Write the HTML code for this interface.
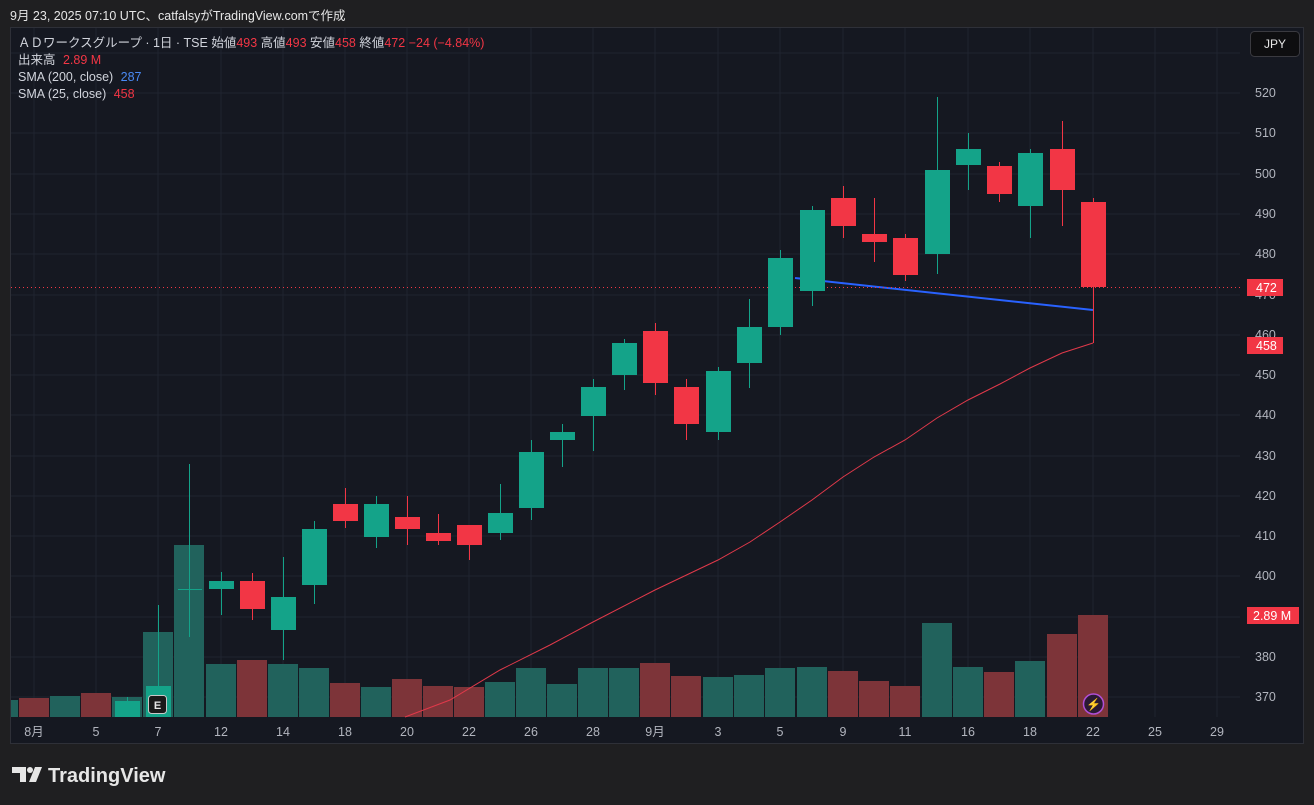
<!DOCTYPE html>
<html><head><meta charset="utf-8"><style>
html,body{margin:0;padding:0;background:#1f1f21;width:1314px;height:805px;overflow:hidden;font-family:"Liberation Sans","Noto Sans CJK JP",sans-serif}
svg{position:absolute;left:0;top:0}
</style></head><body>
<svg width="1314" height="805" xmlns="http://www.w3.org/2000/svg" font-family="Liberation Sans, Noto Sans CJK JP, sans-serif">
<rect x="0" y="0" width="1314" height="805" fill="#1f1f21"/>
<text x="10" y="20" fill="#e6e6e6" font-size="12.5">9月 23, 2025 07:10 UTC、catfalsyがTradingView.comで作成</text>
<rect x="10.5" y="27.5" width="1293" height="716" fill="#151821" stroke="#2e3038"/>
<g stroke="#20242f" stroke-width="1">
<line x1="11" x2="1240" y1="53" y2="53"/><line x1="11" x2="1240" y1="93" y2="93"/><line x1="11" x2="1240" y1="133" y2="133"/><line x1="11" x2="1240" y1="174" y2="174"/><line x1="11" x2="1240" y1="214" y2="214"/><line x1="11" x2="1240" y1="254" y2="254"/><line x1="11" x2="1240" y1="295" y2="295"/><line x1="11" x2="1240" y1="335" y2="335"/><line x1="11" x2="1240" y1="375" y2="375"/><line x1="11" x2="1240" y1="415" y2="415"/><line x1="11" x2="1240" y1="456" y2="456"/><line x1="11" x2="1240" y1="496" y2="496"/><line x1="11" x2="1240" y1="536" y2="536"/><line x1="11" x2="1240" y1="576" y2="576"/><line x1="11" x2="1240" y1="617" y2="617"/><line x1="11" x2="1240" y1="657" y2="657"/><line x1="11" x2="1240" y1="697" y2="697"/>
<line x1="34" x2="34" y1="28" y2="717"/><line x1="96" x2="96" y1="28" y2="717"/><line x1="158" x2="158" y1="28" y2="717"/><line x1="221" x2="221" y1="28" y2="717"/><line x1="283" x2="283" y1="28" y2="717"/><line x1="345" x2="345" y1="28" y2="717"/><line x1="407" x2="407" y1="28" y2="717"/><line x1="469" x2="469" y1="28" y2="717"/><line x1="531" x2="531" y1="28" y2="717"/><line x1="593" x2="593" y1="28" y2="717"/><line x1="655" x2="655" y1="28" y2="717"/><line x1="718" x2="718" y1="28" y2="717"/><line x1="780" x2="780" y1="28" y2="717"/><line x1="843" x2="843" y1="28" y2="717"/><line x1="905" x2="905" y1="28" y2="717"/><line x1="968" x2="968" y1="28" y2="717"/><line x1="1030" x2="1030" y1="28" y2="717"/><line x1="1093" x2="1093" y1="28" y2="717"/><line x1="1155" x2="1155" y1="28" y2="717"/><line x1="1217" x2="1217" y1="28" y2="717"/>
</g>
<g>
<rect x="11" y="700" width="7" height="17" fill="#21625c"/>
<rect x="19" y="698" width="30" height="19" fill="#7d3439"/>
<rect x="50" y="696" width="30" height="21" fill="#21625c"/>
<rect x="81" y="693" width="30" height="24" fill="#7d3439"/>
<rect x="112" y="697" width="30" height="20" fill="#21625c"/>
<rect x="143" y="632" width="30" height="85" fill="#21625c"/>
<rect x="174" y="545" width="30" height="172" fill="#21625c"/>
<rect x="206" y="664" width="30" height="53" fill="#21625c"/>
<rect x="237" y="660" width="30" height="57" fill="#7d3439"/>
<rect x="268" y="664" width="30" height="53" fill="#21625c"/>
<rect x="299" y="668" width="30" height="49" fill="#21625c"/>
<rect x="330" y="683" width="30" height="34" fill="#7d3439"/>
<rect x="361" y="687" width="30" height="30" fill="#21625c"/>
<rect x="392" y="679" width="30" height="38" fill="#7d3439"/>
<rect x="423" y="686" width="30" height="31" fill="#7d3439"/>
<rect x="454" y="687" width="30" height="30" fill="#7d3439"/>
<rect x="485" y="682" width="30" height="35" fill="#21625c"/>
<rect x="516" y="668" width="30" height="49" fill="#21625c"/>
<rect x="547" y="684" width="30" height="33" fill="#21625c"/>
<rect x="578" y="668" width="30" height="49" fill="#21625c"/>
<rect x="609" y="668" width="30" height="49" fill="#21625c"/>
<rect x="640" y="663" width="30" height="54" fill="#7d3439"/>
<rect x="671" y="676" width="30" height="41" fill="#7d3439"/>
<rect x="703" y="677" width="30" height="40" fill="#21625c"/>
<rect x="734" y="675" width="30" height="42" fill="#21625c"/>
<rect x="765" y="668" width="30" height="49" fill="#21625c"/>
<rect x="797" y="667" width="30" height="50" fill="#21625c"/>
<rect x="828" y="671" width="30" height="46" fill="#7d3439"/>
<rect x="859" y="681" width="30" height="36" fill="#7d3439"/>
<rect x="890" y="686" width="30" height="31" fill="#7d3439"/>
<rect x="922" y="623" width="30" height="94" fill="#21625c"/>
<rect x="953" y="667" width="30" height="50" fill="#21625c"/>
<rect x="984" y="672" width="30" height="45" fill="#7d3439"/>
<rect x="1015" y="661" width="30" height="56" fill="#21625c"/>
<rect x="1047" y="634" width="30" height="83" fill="#7d3439"/>
<rect x="1078" y="615" width="30" height="102" fill="#7d3439"/>
</g>
<polyline fill="none" stroke="#2962ff" stroke-width="2" points="795,278 1093,310"/>
<polyline fill="none" stroke="#e0394a" stroke-width="1" points="405,717 450,700 500,670 550,645 593,622 655,590 718,560 750,542 780,522 812,500 843,477 874,457 905,440 937,418 968,400 1000,384 1030,368 1062,353 1093,343"/>
<line x1="11" x2="1240" y1="287.5" y2="287.5" stroke="#f23645" stroke-width="1" stroke-dasharray="1,3"/>
<g stroke-width="1">
<line x1="127.5" x2="127.5" y1="697" y2="717" stroke="#14a389"/><rect x="115" y="701" width="25" height="16" fill="#14a389"/>
<line x1="158.5" x2="158.5" y1="605" y2="717" stroke="#14a389"/><rect x="146" y="686" width="25" height="31" fill="#14a389"/>
<line x1="189.5" x2="189.5" y1="464" y2="637" stroke="#14a389"/><line x1="178" x2="202" y1="589.5" y2="589.5" stroke="#14a389"/>
<line x1="221.5" x2="221.5" y1="572" y2="615" stroke="#14a389"/><rect x="209" y="581" width="25" height="8" fill="#14a389"/>
<line x1="252.5" x2="252.5" y1="573" y2="620" stroke="#f23645"/><rect x="240" y="581" width="25" height="28" fill="#f23645"/>
<line x1="283.5" x2="283.5" y1="557" y2="660" stroke="#14a389"/><rect x="271" y="597" width="25" height="33" fill="#14a389"/>
<line x1="314.5" x2="314.5" y1="521" y2="604" stroke="#14a389"/><rect x="302" y="529" width="25" height="56" fill="#14a389"/>
<line x1="345.5" x2="345.5" y1="488" y2="528" stroke="#f23645"/><rect x="333" y="504" width="25" height="17" fill="#f23645"/>
<line x1="376.5" x2="376.5" y1="496" y2="548" stroke="#14a389"/><rect x="364" y="504" width="25" height="33" fill="#14a389"/>
<line x1="407.5" x2="407.5" y1="496" y2="545" stroke="#f23645"/><rect x="395" y="517" width="25" height="12" fill="#f23645"/>
<line x1="438.5" x2="438.5" y1="514" y2="545" stroke="#f23645"/><rect x="426" y="533" width="25" height="8" fill="#f23645"/>
<line x1="469.5" x2="469.5" y1="525" y2="560" stroke="#f23645"/><rect x="457" y="525" width="25" height="20" fill="#f23645"/>
<line x1="500.5" x2="500.5" y1="484" y2="540" stroke="#14a389"/><rect x="488" y="513" width="25" height="20" fill="#14a389"/>
<line x1="531.5" x2="531.5" y1="440" y2="520" stroke="#14a389"/><rect x="519" y="452" width="25" height="56" fill="#14a389"/>
<line x1="562.5" x2="562.5" y1="424" y2="467" stroke="#14a389"/><rect x="550" y="432" width="25" height="8" fill="#14a389"/>
<line x1="593.5" x2="593.5" y1="379" y2="451" stroke="#14a389"/><rect x="581" y="387" width="25" height="29" fill="#14a389"/>
<line x1="624.5" x2="624.5" y1="339" y2="390" stroke="#14a389"/><rect x="612" y="343" width="25" height="32" fill="#14a389"/>
<line x1="655.5" x2="655.5" y1="323" y2="395" stroke="#f23645"/><rect x="643" y="331" width="25" height="52" fill="#f23645"/>
<line x1="686.5" x2="686.5" y1="379" y2="440" stroke="#f23645"/><rect x="674" y="387" width="25" height="37" fill="#f23645"/>
<line x1="718.5" x2="718.5" y1="367" y2="440" stroke="#14a389"/><rect x="706" y="371" width="25" height="61" fill="#14a389"/>
<line x1="749.5" x2="749.5" y1="299" y2="388" stroke="#14a389"/><rect x="737" y="327" width="25" height="36" fill="#14a389"/>
<line x1="780.5" x2="780.5" y1="250" y2="335" stroke="#14a389"/><rect x="768" y="258" width="25" height="69" fill="#14a389"/>
<line x1="812.5" x2="812.5" y1="206" y2="306" stroke="#14a389"/><rect x="800" y="210" width="25" height="81" fill="#14a389"/>
<line x1="843.5" x2="843.5" y1="186" y2="238" stroke="#f23645"/><rect x="831" y="198" width="25" height="28" fill="#f23645"/>
<line x1="874.5" x2="874.5" y1="198" y2="262" stroke="#f23645"/><rect x="862" y="234" width="25" height="8" fill="#f23645"/>
<line x1="905.5" x2="905.5" y1="234" y2="281" stroke="#f23645"/><rect x="893" y="238" width="25" height="37" fill="#f23645"/>
<line x1="937.5" x2="937.5" y1="97" y2="274" stroke="#14a389"/><rect x="925" y="170" width="25" height="84" fill="#14a389"/>
<line x1="968.5" x2="968.5" y1="133" y2="190" stroke="#14a389"/><rect x="956" y="149" width="25" height="16" fill="#14a389"/>
<line x1="999.5" x2="999.5" y1="162" y2="202" stroke="#f23645"/><rect x="987" y="166" width="25" height="28" fill="#f23645"/>
<line x1="1030.5" x2="1030.5" y1="149" y2="238" stroke="#14a389"/><rect x="1018" y="153" width="25" height="53" fill="#14a389"/>
<line x1="1062.5" x2="1062.5" y1="121" y2="226" stroke="#f23645"/><rect x="1050" y="149" width="25" height="41" fill="#f23645"/>
<line x1="1093.5" x2="1093.5" y1="198" y2="343" stroke="#f23645"/><rect x="1081" y="202" width="25" height="85" fill="#f23645"/>
</g>
<rect x="148.5" y="695.5" width="18" height="18" rx="3" fill="#1a1a1a" stroke="#c8c8c8"/>
<text x="157.5" y="709" fill="#e6e6e6" font-size="11" text-anchor="middle" font-weight="bold">E</text>
<circle cx="1093.5" cy="704" r="10" fill="#2a1a33" stroke="#b04fd6" stroke-width="1.5"/>
<text x="1093.5" y="708.5" fill="#d070f0" font-size="12" text-anchor="middle">⚡</text>
<g font-size="12.5">
<text x="18" y="47" fill="#d1d4dc">ＡＤワークスグループ · 1日 · TSE  始値<tspan fill="#f23645">493</tspan>  高値<tspan fill="#f23645">493</tspan>  安値<tspan fill="#f23645">458</tspan>  終値<tspan fill="#f23645">472  −24 (−4.84%)</tspan></text>
<text x="18" y="64" fill="#d1d4dc">出来高 <tspan fill="#f23645" dx="4">2.89 M</tspan></text>
<text x="18" y="81" fill="#d1d4dc">SMA (200, close) <tspan fill="#4a8af4" dx="4">287</tspan></text>
<text x="18" y="98" fill="#d1d4dc">SMA (25, close) <tspan fill="#f23645" dx="4">458</tspan></text>
</g>
<rect x="1250.5" y="31.5" width="49" height="25" rx="4" fill="#0e0e10" stroke="#3a3a40"/>
<text x="1275" y="48" fill="#e6e6e6" font-size="12" text-anchor="middle">JPY</text>
<g font-size="12.5" fill="#b2b5be">
<text x="1255" y="97">520</text><text x="1255" y="137">510</text><text x="1255" y="178">500</text><text x="1255" y="218">490</text><text x="1255" y="258">480</text><text x="1255" y="299">470</text><text x="1255" y="339">460</text><text x="1255" y="379">450</text><text x="1255" y="419">440</text><text x="1255" y="460">430</text><text x="1255" y="500">420</text><text x="1255" y="540">410</text><text x="1255" y="580">400</text><text x="1255" y="661">380</text><text x="1255" y="701">370</text>
</g>
<rect x="1247" y="279" width="36" height="17" fill="#f23645"/><text x="1256" y="292" fill="#fff" font-size="12.5">472</text>
<rect x="1247" y="337" width="36" height="17" fill="#f23645"/><text x="1256" y="350" fill="#fff" font-size="12.5">458</text>
<rect x="1247" y="607" width="52" height="17" fill="#f23645"/><text x="1253" y="620" fill="#fff" font-size="12.5">2.89 M</text>
<g font-size="12.5" fill="#b2b5be" text-anchor="middle">
<text x="34" y="736">8月</text><text x="96" y="736">5</text><text x="158" y="736">7</text><text x="221" y="736">12</text><text x="283" y="736">14</text><text x="345" y="736">18</text><text x="407" y="736">20</text><text x="469" y="736">22</text><text x="531" y="736">26</text><text x="593" y="736">28</text><text x="655" y="736">9月</text><text x="718" y="736">3</text><text x="780" y="736">5</text><text x="843" y="736">9</text><text x="905" y="736">11</text><text x="968" y="736">16</text><text x="1030" y="736">18</text><text x="1093" y="736">22</text><text x="1155" y="736">25</text><text x="1217" y="736">29</text>
</g>
<g fill="#e6e6e6">
<path d="M12 767h14v15h-6v-9h-8z"/><circle cx="30" cy="770" r="3"/><path d="M35 767h7l-6 15h-7z"/>
</g>
<text x="48" y="782" fill="#e6e6e6" font-size="20" font-weight="bold">TradingView</text>
</svg>
</body></html>
